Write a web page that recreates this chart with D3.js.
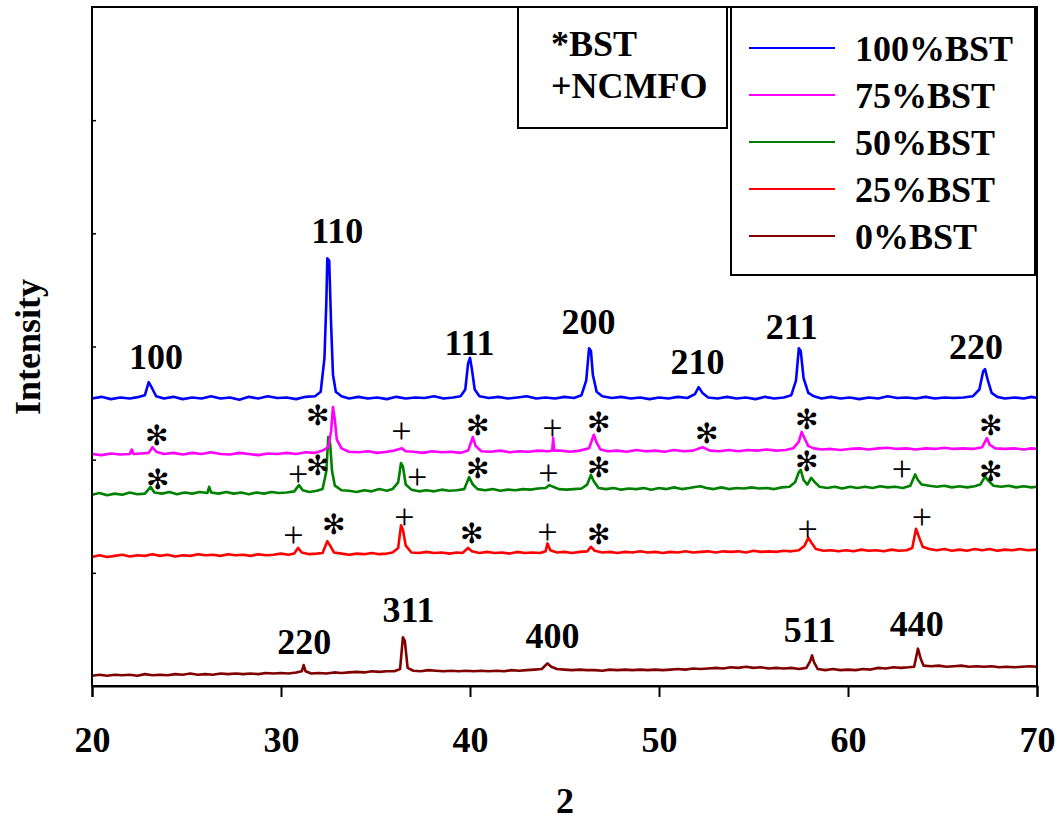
<!DOCTYPE html>
<html>
<head>
<meta charset="utf-8">
<script src="https://cdn.jsdelivr.net/npm/d3@7"></script>
</head>
<body style="margin:0">
<div></div>
<script>
// 2theta / intensity pairs (arbitrary units, traces already stacked)
const bst100 = [[20,254],[20.5,255.5],[21,253.5],[21.5,255],[22,254],[22.5,255.5],[22.8,257],[23.0,268.5],[23.15,264],[23.4,256],[23.8,254],[24.3,255.5],[24.8,253.5],[25.3,255],[25.8,254],[26.3,256],[26.8,254],[27.3,255],[27.8,253],[28.3,255.5],[28.8,254],[29.3,256],[29.8,254.5],[30.3,255],[30.8,253.5],[31.3,255.5],[31.8,256],[32.1,260],[32.3,290],[32.4,340],[32.45,378],[32.55,376],[32.65,320],[32.75,275],[32.9,260],[33.2,256],[33.6,254],[34.1,255.5],[34.6,254],[35.1,255],[35.6,253.5],[36.1,255.5],[36.6,254],[37.1,255],[37.6,254.5],[38.1,256],[38.6,254],[39.1,255],[39.5,256],[39.75,262],[39.9,285],[40.0,290],[40.1,280],[40.25,262],[40.5,256],[41,254.5],[41.5,255.5],[42,254],[42.5,255],[43,256],[43.5,254],[44,255],[44.5,254],[45,255.5],[45.5,254.5],[45.9,257],[46.15,270],[46.3,298.5],[46.4,296],[46.5,275],[46.7,260],[47,256],[47.5,254.5],[48,255.5],[48.5,254],[49,255],[49.5,253.5],[50,255],[50.5,254],[51,255.5],[51.5,254.5],[51.9,258],[52.1,264],[52.3,259],[52.6,255],[53.1,254],[53.6,255.5],[54.1,254],[54.6,255],[55.1,253.5],[55.6,255.5],[56.1,254],[56.6,255],[57.0,257],[57.25,270],[57.4,298.5],[57.5,296],[57.65,272],[57.9,259],[58.2,256],[58.6,254],[59.1,255.5],[59.6,254],[60.1,255],[60.6,253.5],[61.1,255],[61.6,254],[62.1,256],[62.6,254.5],[63.1,255],[63.6,254],[64.1,255.5],[64.6,254],[65.1,255],[65.6,254.5],[66.1,255],[66.6,256],[66.95,262],[67.15,278],[67.25,280],[67.4,270],[67.6,259],[67.9,255.5],[68.3,254],[68.8,255],[69.3,254],[69.7,255.5],[70,254.5]];

const bst75 = [[20,205],[20.5,204],[21,205.5],[21.5,204.5],[22,205],[22.1,209],[22.2,205],[22.6,205.5],[23.0,206],[23.2,211],[23.4,207],[23.8,205],[24.3,206],[24.8,204.5],[25.3,206],[25.8,205],[26.3,206.5],[26.8,205],[27.3,204.5],[27.8,206],[28.3,205],[28.8,204],[29.3,205.5],[29.8,205],[30.3,206],[30.8,205],[31.3,206.5],[31.8,206],[32.2,208],[32.5,211],[32.65,225],[32.75,246.5],[32.85,235],[32.95,218],[33.2,210],[33.6,207],[34.1,206.5],[34.6,207.5],[35.1,206],[35.6,207],[36.0,208],[36.4,210],[36.6,207.5],[37.0,207],[37.5,206],[38.0,207.5],[38.5,206.5],[39.0,207],[39.5,206],[39.9,208],[40.15,220],[40.3,212],[40.6,207.5],[41.1,207],[41.6,208],[42.1,206.5],[42.6,207.5],[43.1,207],[43.6,208],[44.1,207.5],[44.35,208],[44.4,219],[44.45,208],[44.8,208],[45.3,207],[45.8,208],[46.3,210],[46.55,222],[46.7,215],[46.9,209],[47.3,207.5],[47.8,208],[48.3,207],[48.8,208.5],[49.3,207.5],[49.8,208],[50.3,207],[50.8,208.5],[51.3,207.5],[51.8,208],[52.3,211],[52.7,208],[53.2,207.5],[53.7,208.5],[54.2,207.5],[54.7,208.5],[55.2,208],[55.7,209],[56.2,208],[56.7,208.5],[57.1,210],[57.4,216],[57.55,224.5],[57.7,219],[57.9,212],[58.2,210],[58.6,209],[59.1,209.5],[59.6,208.5],[60.1,209.5],[60.6,210],[61.1,209],[61.6,210],[62.1,210.5],[62.6,209.5],[63.1,210],[63.6,209],[64.1,210],[64.6,209.5],[65.1,210.5],[65.6,209.5],[66.1,210],[66.6,209.5],[67.1,211],[67.35,219],[67.5,213],[67.8,210],[68.3,209.5],[68.8,210],[69.3,209],[69.7,210],[70,209.5]];

const bst50 = [[20,169],[20.4,170.5],[20.8,168.5],[21.2,170],[21.6,169],[22,171],[22.4,169.5],[22.8,170],[23.1,176],[23.3,171],[23.7,170],[24.1,171.5],[24.5,169.5],[24.9,171],[25.3,170],[25.7,171.5],[26.1,170.5],[26.2,176],[26.3,171],[26.7,170],[27.1,171.5],[27.5,170],[27.9,171],[28.3,169.5],[28.7,171],[29.1,170],[29.5,171.5],[29.9,170.5],[30.3,171],[30.7,172],[30.95,177.5],[31.15,173],[31.5,171.5],[31.9,172.5],[32.2,174],[32.4,190],[32.5,220],[32.6,214],[32.7,190],[32.85,177],[33.2,173],[33.6,172.5],[34.0,171.5],[34.4,173],[34.8,172],[35.2,174],[35.6,172.5],[35.9,174],[36.2,180],[36.35,197],[36.45,194],[36.6,178],[36.9,173.5],[37.3,172],[37.7,173],[38.1,172],[38.5,173.5],[38.9,172.5],[39.3,173],[39.7,174],[39.95,184.5],[40.15,178],[40.4,174],[40.8,173],[41.2,174],[41.6,172.5],[42,173.5],[42.4,173],[42.8,174],[43.2,173.5],[43.6,174.5],[44.0,175],[44.2,177.5],[44.4,176],[44.7,174],[45.1,173.5],[45.5,174],[45.9,174.5],[46.2,178],[46.4,186.5],[46.55,181],[46.8,175],[47.2,174],[47.6,175],[48,173.5],[48.4,174.5],[48.8,174],[49.2,175],[49.6,173.5],[50,175],[50.4,174],[50.8,175.5],[51.2,174],[51.6,175],[52.0,176],[52.2,176.5],[52.5,175],[52.9,174],[53.3,175.5],[53.7,174],[54.1,175],[54.5,174.5],[54.9,175.5],[55.3,174.5],[55.7,175],[56.1,174],[56.5,175.5],[56.9,176],[57.2,180],[57.4,189],[57.5,191],[57.65,182],[57.85,178],[58.05,184],[58.25,180],[58.5,176],[58.9,175],[59.3,176],[59.7,174.5],[60.1,176],[60.5,175],[60.9,176],[61.3,175],[61.7,176.5],[62.1,175.5],[62.5,176],[62.9,175],[63.3,177],[63.55,187],[63.7,182],[63.9,178],[64.3,177],[64.7,176],[65.1,177],[65.5,175.5],[65.9,176.5],[66.3,175.5],[66.7,176.5],[67.0,178],[67.25,185],[67.45,181],[67.7,177],[68.1,176],[68.5,177],[68.9,175.5],[69.3,176.5],[69.7,175.5],[70,176]];

const bst25 = [[20,114],[20.4,115.5],[20.8,114],[21.2,115],[21.6,116],[22,114.5],[22.4,115.5],[22.8,115],[23.2,116.5],[23.6,115],[24,116],[24.4,114.5],[24.8,115.5],[25.2,115],[25.6,116.5],[26,115.5],[26.4,116],[26.8,115],[27.2,116.5],[27.6,115.5],[28,116],[28.4,115],[28.8,116.5],[29.2,115.5],[29.6,116],[30.0,117],[30.4,116],[30.7,117],[30.9,122],[31.1,118],[31.5,116.5],[31.9,117],[32.2,117.5],[32.45,128],[32.6,124],[32.8,118],[33.2,117],[33.6,116],[34,117],[34.4,116.5],[34.8,117.5],[35.2,116.5],[35.6,117],[35.9,118],[36.2,122],[36.35,142],[36.45,138],[36.6,124],[36.9,118],[37.3,117.5],[37.7,118.5],[38.1,117.5],[38.5,118],[38.9,117],[39.3,118],[39.6,117.5],[39.9,122],[40.1,119],[40.5,117.5],[40.9,118.5],[41.3,117.5],[41.7,118],[42.1,117],[42.5,118.5],[42.9,117.5],[43.3,118],[43.7,117.5],[44.0,119],[44.1,126],[44.25,120],[44.6,118],[45,118.5],[45.4,117.5],[45.8,118.5],[46.2,119],[46.4,123],[46.6,119.5],[47,118],[47.4,118.5],[47.8,117.5],[48.2,118.5],[48.6,118],[49,119],[49.4,118],[49.8,118.5],[50.2,117.5],[50.6,118.5],[51,118],[51.4,119],[51.8,118],[52.2,118.5],[52.6,119],[53,118],[53.4,119],[53.8,118.5],[54.2,119],[54.6,118],[55,119.5],[55.4,118.5],[55.8,119],[56.2,118.5],[56.6,119.5],[57.0,119],[57.4,120],[57.7,124],[57.9,131],[58.05,127],[58.3,121],[58.7,119.5],[59.1,120],[59.5,119],[59.9,120],[60.3,119],[60.7,120.5],[61.1,119.5],[61.5,120],[61.9,119],[62.3,120.5],[62.7,119.5],[63.1,120],[63.4,122],[63.6,139],[63.75,132],[63.95,123],[64.3,121],[64.7,120],[65.1,121],[65.5,119.5],[65.9,120.5],[66.3,119.5],[66.7,121],[67.1,120],[67.5,121],[67.9,119.5],[68.3,120.5],[68.7,120],[69.1,121],[69.5,120],[70,120.5]];

const bst0 = [[20,9],[20.4,10],[20.8,9],[21.2,10],[21.6,9.5],[22,10],[22.4,9],[22.8,10.5],[23.2,9.5],[23.6,10],[24,9.5],[24.4,10.5],[24.8,10],[25.2,11],[25.6,10],[26,10.5],[26.4,10],[26.8,11],[27.2,10.5],[27.6,11],[28,10.5],[28.4,11],[28.8,10.5],[29.2,11.5],[29.6,11],[30,11.5],[30.4,11],[30.8,12],[31.1,13],[31.2,18.5],[31.3,13],[31.6,11],[32,11.5],[32.4,11],[32.8,12],[33.2,11.5],[33.6,12],[34,12.5],[34.4,12],[34.8,13],[35.2,12.5],[35.6,13],[36.0,13],[36.3,15],[36.45,43],[36.55,40],[36.7,16],[37.0,13.5],[37.4,13],[37.8,14],[38.2,13.5],[38.6,13],[39,13.5],[39.4,13],[39.8,13.5],[40.2,13],[40.6,13.5],[41,13],[41.4,13.5],[41.8,13],[42.2,14],[42.6,13.5],[43,14],[43.4,14.5],[43.8,15],[44.1,20],[44.3,17],[44.6,15],[45,14.5],[45.4,14],[45.8,14.5],[46.2,14],[46.6,14],[47,13.5],[47.4,14.5],[47.8,14],[48.2,14.5],[48.6,14],[49,14.5],[49.4,14],[49.8,14.5],[50.2,14],[50.6,14.5],[51,15],[51.4,14.5],[51.8,15.5],[52.2,15],[52.6,15.5],[53,16],[53.4,15.5],[53.8,16.5],[54.2,16],[54.6,17],[55,16],[55.4,16.5],[55.8,15.5],[56.2,16],[56.6,15.5],[57,16],[57.4,15],[57.8,16],[58.0,22],[58.1,27],[58.2,21],[58.4,15],[58.8,14],[59.2,15],[59.6,14],[60,14.5],[60.4,14],[60.8,15],[61.2,14.5],[61.6,16],[62,15.5],[62.4,16.5],[62.8,16],[63.2,16.5],[63.5,17],[63.7,33],[63.85,24],[64,18],[64.4,17.5],[64.8,18],[65.2,17],[65.6,17.5],[66,18],[66.4,17],[66.8,17.5],[67.2,17],[67.6,17.5],[68,16.5],[68.4,17],[68.8,16.5],[69.2,17],[69.6,17.5],[70,17]];

const seriesNames = ["100%BST", "75%BST", "50%BST", "25%BST", "0%BST"];
const seriesColors = ["#0000ff", "#ff00ff", "#008000", "#ff0000", "#800000"];
const seriesData = [bst100, bst75, bst50, bst25, bst0];

const xTicks = [20, 30, 40, 50, 60, 70];
const yTicks = [100, 200, 300, 400, 500];

// peak labels [2theta, intensity, text]
const hklLabels = [[23.39,290.7,"100"],[32.98,402,"110"],[39.97,303.1,"111"],[46.27,321.6,"200"],[52.04,286.3,"210"],[57.02,317.2,"211"],[66.77,299.6,"220"],
  [31.23,38.9,"220"],[36.74,67.2,"311"],[44.36,44.2,"400"],[57.98,49.5,"511"],[63.64,54.8,"440"]];
// phase markers [2theta, intensity, kind]  (* = BST, + = NCMFO)
const phaseMarks = [[23.39,221.8,"*"],[31.92,239.5,"*"],[36.37,224.4,"+"],[40.39,230.6,"*"],[44.36,227.1,"+"],[46.8,233.3,"*"],[52.52,223.6,"*"],[57.82,235.9,"*"],[67.56,230.6,"*"],
  [23.44,182.9,"*"],[30.91,186.4,"+"],[31.92,195.3,"*"],[37.21,183.8,"+"],[40.39,192.6,"*"],[44.15,187.3,"+"],[46.8,193.5,"*"],[57.82,198.8,"*"],[62.85,190.9,"+"],[67.56,190,"*"],
  [30.65,132.5,"+"],[32.76,143.1,"*"],[36.53,148.4,"+"],[40.07,135.2,"*"],[44.1,135.2,"+"],[46.8,134.3,"*"],[57.87,137.8,"+"],[63.91,148.4,"+"]];

const FONT = 'Liberation Serif';
const width = 1061, height = 820;
const margin = { top: 7, right: 24, bottom: 134, left: 92 };
const innerWidth = width - margin.left - margin.right;
const innerHeight = height - margin.top - margin.bottom;

const xScale = d3.scaleLinear().domain([20, 70]).range([0, innerWidth]);
const yScale = d3.scaleLinear().domain([0, 600]).range([innerHeight, 0]);

const svg = d3.select('div').append('svg').attr('width', width).attr('height', height);
const chart = svg.append('g').attr('transform', `translate(${margin.left},${margin.top})`);

const line = d3.line().x(d => xScale(d[0])).y(d => yScale(d[1]));

// draw bottom trace first so the upper ones sit on top
seriesData.slice().reverse().forEach((s, i) => {
  const idx = seriesData.length - 1 - i;
  chart.append('path')
    .datum(s)
    .attr('d', line)
    .attr('fill', 'none')
    .attr('stroke', seriesColors[idx])
    .attr('stroke-width', 2.6)
    .attr('stroke-linejoin', 'round');
});

// frame
chart.append('rect')
  .attr('width', innerWidth).attr('height', innerHeight)
  .attr('fill', 'none').attr('stroke', '#000').attr('stroke-width', 2);

const label = (sel) => sel.attr('font-family', FONT).attr('font-weight', 'bold').attr('font-size', 36).attr('fill', '#000');

const xAxis = d3.axisBottom(xScale).tickValues(xTicks).tickSize(11).tickPadding(29).tickFormat(d3.format('d'));
chart.append('g').attr('transform', `translate(0,${innerHeight})`).call(xAxis)
  .attr('font-family', FONT).attr('font-size', 36).attr('font-weight', 'bold')
  .call(g => g.select('.domain').attr('stroke-width', 2))
  .call(g => g.selectAll('.tick line').attr('stroke-width', 2))
  .call(g => g.selectAll('.tick text').call(label));

const yAxis = d3.axisLeft(yScale).tickValues(yTicks).tickSize(-4).tickFormat('');
chart.append('g').call(yAxis)
  .call(g => g.select('.domain').remove())
  .call(g => g.selectAll('.tick line').attr('stroke-width', 1.5));

// axis titles
svg.append('text').attr('x', 565).attr('y', 813).attr('text-anchor', 'middle').call(label).text('2');
svg.append('text').attr('transform', 'translate(40,347) rotate(-90)').attr('text-anchor', 'middle').call(label).text('Intensity');

// peak labels
chart.selectAll('.hkl').data(hklLabels).enter().append('text')
  .attr('class', 'hkl')
  .attr('x', d => xScale(d[0])).attr('y', d => yScale(d[1]))
  .attr('dy', '0.34em')
  .attr('text-anchor', 'middle').call(label)
  .text(d => d[2]);

// phase markers
chart.selectAll('.mark').data(phaseMarks).enter().append('text')
  .attr('class', 'mark')
  .attr('x', d => xScale(d[0])).attr('y', d => yScale(d[1]))
  .attr('dy', d => d[2] === '*' ? '0.36em' : '0.3em')
  .attr('text-anchor', 'middle')
  .attr('font-family', FONT)
  .attr('font-weight', 'normal')
  .attr('font-size', d => d[2] === '*' ? 28 : 36)
  .attr('fill', '#000')
  .text(d => d[2] === '*' ? '\u273B' : '+');

// phase key box
svg.append('rect').attr('x', 518).attr('y', 7).attr('width', 209).attr('height', 121)
  .attr('fill', '#fff').attr('stroke', '#000').attr('stroke-width', 2);
svg.append('text').attr('x', 551).attr('y', 56).call(label).text('*BST');
svg.append('text').attr('x', 551).attr('y', 98).call(label).text('+NCMFO');

// series legend
const legend = svg.append('g');
legend.append('rect').attr('x', 731).attr('y', 7).attr('width', 304).attr('height', 268)
  .attr('fill', '#fff').attr('stroke', '#000').attr('stroke-width', 2);
const rows = legend.selectAll('.row').data(seriesNames).enter().append('g')
  .attr('transform', (d, i) => `translate(0,${48 + i * 47})`);
rows.append('line').attr('x1', 749).attr('x2', 835).attr('y1', 0).attr('y2', 0)
  .attr('stroke', (d, i) => seriesColors[i]).attr('stroke-width', 2);
rows.append('text').attr('x', 855).attr('y', 13).call(label).text(d => d);
</script>
</body>
</html>
